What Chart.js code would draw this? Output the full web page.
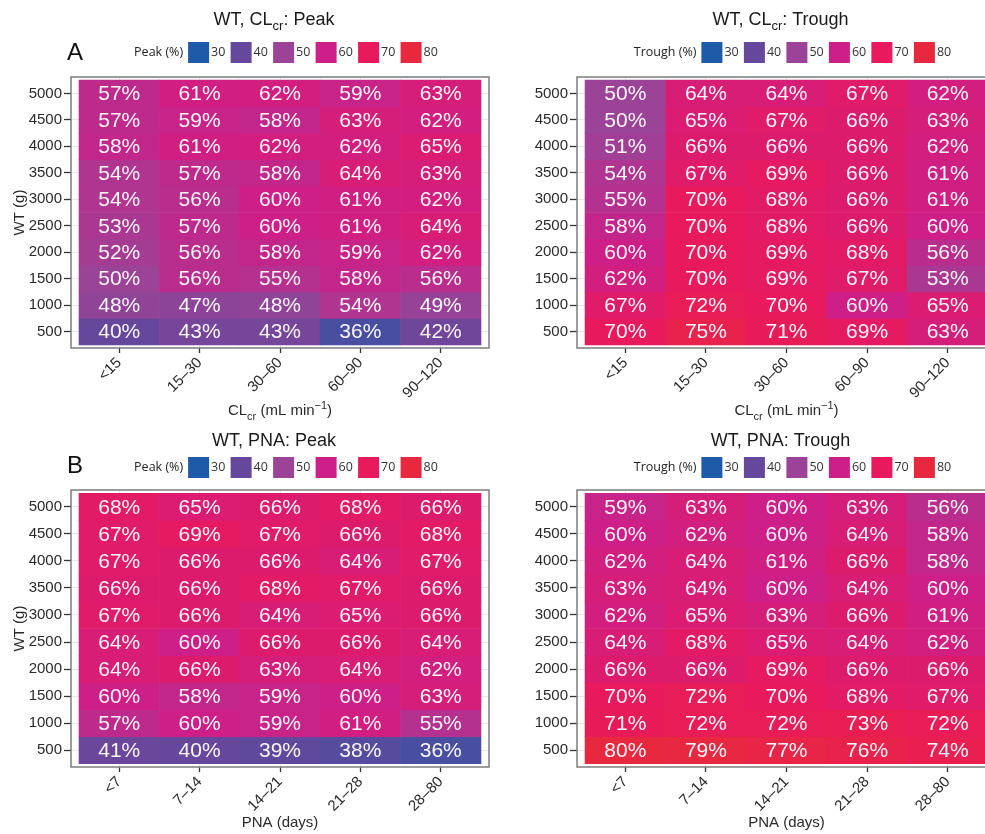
<!DOCTYPE html>
<html>
<head>
<meta charset="utf-8">
<script src="https://cdn.jsdelivr.net/npm/chart.js@4.4.1/dist/chart.umd.min.js"></script>
<style>
  html, body { margin: 0; padding: 0; background: #ffffff; overflow: hidden; width: 985px; height: 834px; }
  canvas { position: absolute; display: block; }
</style>
</head>
<body>
<canvas id="clcrPeak" width="490" height="420" style="left:0px;top:0px"></canvas>
<canvas id="clcrTrough" width="520" height="420" style="left:490px;top:0px"></canvas>
<canvas id="pnaPeak" width="490" height="414" style="left:0px;top:420px"></canvas>
<canvas id="pnaTrough" width="520" height="414" style="left:490px;top:420px"></canvas>
<script>
// Body weight rows, top to bottom
const wtLevels = [5000, 4500, 4000, 3500, 3000, 2500, 2000, 1500, 1000, 500];

// Column categories
const clcrBins = ['<15', '15–30', '30–60', '60–90', '90–120'];
const pnaBins = ['<7', '7–14', '14–21', '21–28', '28–80'];

// Target attainment (%) by WT row and CLcr column
const peakByClcr = [
  [57, 61, 62, 59, 63],
  [57, 59, 58, 63, 62],
  [58, 61, 62, 62, 65],
  [54, 57, 58, 64, 63],
  [54, 56, 60, 61, 62],
  [53, 57, 60, 61, 64],
  [52, 56, 58, 59, 62],
  [50, 56, 55, 58, 56],
  [48, 47, 48, 54, 49],
  [40, 43, 43, 36, 42]
];
const troughByClcr = [
  [50, 64, 64, 67, 62],
  [50, 65, 67, 66, 63],
  [51, 66, 66, 66, 62],
  [54, 67, 69, 66, 61],
  [55, 70, 68, 66, 61],
  [58, 70, 68, 66, 60],
  [60, 70, 69, 68, 56],
  [62, 70, 69, 67, 53],
  [67, 72, 70, 60, 65],
  [70, 75, 71, 69, 63]
];

// Target attainment (%) by WT row and PNA column
const peakByPna = [
  [68, 65, 66, 68, 66],
  [67, 69, 67, 66, 68],
  [67, 66, 66, 64, 67],
  [66, 66, 68, 67, 66],
  [67, 66, 64, 65, 66],
  [64, 60, 66, 66, 64],
  [64, 66, 63, 64, 62],
  [60, 58, 59, 60, 63],
  [57, 60, 59, 61, 55],
  [41, 40, 39, 38, 36]
];
const troughByPna = [
  [59, 63, 60, 63, 56],
  [60, 62, 60, 64, 58],
  [62, 64, 61, 66, 58],
  [63, 64, 60, 64, 60],
  [62, 65, 63, 66, 61],
  [64, 68, 65, 64, 62],
  [66, 66, 69, 66, 66],
  [70, 72, 70, 68, 67],
  [71, 72, 72, 73, 72],
  [80, 79, 77, 76, 74]
];

// Colour scale breaks
const legendBreaks = [30, 40, 50, 60, 70, 80];
const legendColours = ['#1f5aa8', '#65479b', '#9b4396', '#cd1f87', '#e8195c', '#e8283e'];

const SANS = '"Liberation Sans", Arial, Helvetica, sans-serif';
const LEGEND_FONT = '"Open Sans", "Noto Sans", sans-serif';

function hexToRgb(h) {
  const n = parseInt(h.slice(1), 16);
  return [(n >> 16) & 255, (n >> 8) & 255, n & 255];
}
const rampRgb = legendColours.map(hexToRgb);

function fillFor(v) {
  const lo = legendBreaks[0], hi = legendBreaks[legendBreaks.length - 1];
  const t = Math.min(Math.max(v, lo), hi);
  let k = 0;
  while (k < legendBreaks.length - 2 && t > legendBreaks[k + 1]) k++;
  const f = (t - legendBreaks[k]) / (legendBreaks[k + 1] - legendBreaks[k]);
  const a = rampRgb[k], b = rampRgb[k + 1];
  const c = a.map((x, i) => Math.round(x + (b[i] - x) * f));
  return `rgb(${c[0]},${c[1]},${c[2]})`;
}

// Text with subscript / superscript runs, centred on cx
function drawRich(ctx, segs, cx, y, base) {
  const fontOf = s => (s.sub || s.sup) ? `${Math.round(base * 0.72)}px ${SANS}` : `${base}px ${SANS}`;
  let total = 0;
  segs.forEach(s => { ctx.font = fontOf(s); total += ctx.measureText(s.t).width; });
  let x = cx - total / 2;
  ctx.textAlign = 'left';
  ctx.textBaseline = 'alphabetic';
  segs.forEach(s => {
    ctx.font = fontOf(s);
    const dy = s.sub ? base * 0.3 : (s.sup ? -base * 0.38 : 0);
    ctx.fillText(s.t, x, y + dy);
    x += ctx.measureText(s.t).width;
  });
}

const cellLabels = {
  id: 'cellLabels',
  afterDatasetsDraw(chart) {
    const ctx = chart.ctx;
    ctx.save();
    ctx.fillStyle = '#fbf6fa';
    ctx.font = `21px ${SANS}`;
    ctx.textAlign = 'center';
    ctx.textBaseline = 'middle';
    chart.data.datasets.forEach((ds, i) => {
      chart.getDatasetMeta(i).data.forEach((bar, j) => {
        ctx.fillText(ds.data[j].v + '%', bar.x, (bar.y + bar.base) / 2 + 1);
      });
    });
    ctx.restore();
  }
};

const panelDecor = {
  id: 'panelDecor',
  afterDraw(chart, args, o) {
    const ctx = chart.ctx;
    const a = chart.chartArea;
    const mid = (a.left + a.right) / 2;
    ctx.save();
    // panel frame
    ctx.strokeStyle = '#7c7c7c';
    ctx.lineWidth = 1.5;
    ctx.strokeRect(a.left, a.top, a.right - a.left, a.bottom - a.top);

    // heading
    ctx.fillStyle = '#1a1a1a';
    drawRich(ctx, o.title, mid - 6, o.titleY, 18);

    // x axis title
    ctx.fillStyle = '#2a2a2a';
    drawRich(ctx, o.xTitle, mid, o.xTitleY, 15);

    // panel tag
    if (o.tag) {
      ctx.fillStyle = '#111';
      ctx.font = `24px ${SANS}`;
      ctx.textAlign = 'left';
      ctx.textBaseline = 'alphabetic';
      ctx.fillText(o.tag, 67, o.tagY);
    }

    // colour legend
    const sw = 21, step = 42.5;
    ctx.font = `12.5px ${LEGEND_FONT}`;
    const titleW = ctx.measureText(o.legendTitle).width;
    ctx.font = `12.5px ${LEGEND_FONT}`;
    const lastW = ctx.measureText(String(legendBreaks[legendBreaks.length - 1])).width;
    const groupW = titleW + 5 + step * (legendBreaks.length - 1) + sw + 2 + lastW;
    let x0 = mid + 6 - groupW / 2;
    ctx.textBaseline = 'middle';
    ctx.textAlign = 'left';
    ctx.fillStyle = '#222';
    ctx.fillText(o.legendTitle, x0, o.legendY);
    const sx0 = x0 + titleW + 5;
    legendBreaks.forEach((b, k) => {
      const sx = sx0 + k * step;
      ctx.fillStyle = legendColours[k];
      ctx.fillRect(sx, o.legendY - sw / 2, sw, sw);
      ctx.fillStyle = '#333';
      ctx.fillText(String(b), sx + sw + 2, o.legendY);
    });
    ctx.restore();
  }
};

const clcrTitle = [{t: 'CL'}, {t: 'cr', sub: true}, {t: ' (mL min'}, {t: '−1', sup: true}, {t: ')'}];
const pnaTitle = [{t: 'PNA (days)'}];

function makePanel(id, p) {
  const datasets = wtLevels.map((wt, r) => ({
    label: String(wt),
    data: p.bins.map((b, c) => ({x: c, y: [wt - 250, wt + 250], v: p.values[r][c]})),
    backgroundColor: ctx => fillFor(ctx.raw.v),
    borderWidth: 0,
    grouped: false,
    barPercentage: 1,
    categoryPercentage: 1
  }));
  const tickFont = {family: SANS, size: 15};
  new Chart(document.getElementById(id), {
    type: 'bar',
    data: {datasets},
    plugins: [cellLabels, panelDecor],
    options: {
      responsive: false,
      animation: false,
      devicePixelRatio: 1,
      events: [],
      layout: {padding: {top: p.top, left: 0, right: p.rightPad, bottom: 0}},
      plugins: {
        legend: {display: false},
        tooltip: {enabled: false},
        panelDecor: {
          title: p.title, titleY: p.titleY, xTitle: p.xTitle, xTitleY: p.xTitleY,
          tag: p.tag, tagY: p.tagY, legendTitle: p.legendTitle, legendY: p.legendY
        }
      },
      scales: {
        x: {
          type: 'linear', min: -0.6, max: 4.6, offset: false,
          afterBuildTicks: s => { s.ticks = p.bins.map((b, i) => ({value: i})); },
          afterFit: s => { s.height = p.xHeight; },
          ticks: {
            autoSkip: false, minRotation: 45, maxRotation: 45, padding: 1,
            color: '#2a2a2a', font: tickFont,
            callback: v => p.bins[v]
          },
          grid: {offset: false, color: '#e6e6e6', lineWidth: 1, tickLength: 5, tickColor: '#333', tickWidth: 1.3},
          border: {display: false}
        },
        y: {
          type: 'linear', min: 190, max: 5310,
          afterBuildTicks: s => { s.ticks = wtLevels.map(v => ({value: v})); },
          afterFit: s => { s.width = p.yWidth; },
          ticks: {padding: 2, color: '#2a2a2a', font: tickFont, callback: v => String(v)},
          grid: {color: '#e6e6e6', lineWidth: 1, tickLength: 7, tickColor: '#333', tickWidth: 1.3},
          border: {display: false},
          title: {display: p.yTitle, text: 'WT (g)', color: '#2a2a2a', font: {family: SANS, size: 15}, padding: {top: 11, bottom: 0}}
        }
      }
    }
  });
}

makePanel('clcrPeak', {
  values: peakByClcr, bins: clcrBins,
  title: [{t: 'WT, CL'}, {t: 'cr', sub: true}, {t: ': Peak'}], titleY: 25,
  xTitle: clcrTitle, xTitleY: 415, tag: 'A', tagY: 60,
  legendTitle: 'Peak (%)', legendY: 52.5,
  top: 77, xHeight: 72, yWidth: 71, rightPad: 1, yTitle: true
});
makePanel('clcrTrough', {
  values: troughByClcr, bins: clcrBins,
  title: [{t: 'WT, CL'}, {t: 'cr', sub: true}, {t: ': Trough'}], titleY: 25,
  xTitle: clcrTitle, xTitleY: 415, tag: null, tagY: 0,
  legendTitle: 'Trough (%)', legendY: 52.5,
  top: 77, xHeight: 72, yWidth: 87, rightPad: 14, yTitle: false
});
makePanel('pnaPeak', {
  values: peakByPna, bins: pnaBins,
  title: [{t: 'WT, PNA: Peak'}], titleY: 26,
  xTitle: pnaTitle, xTitleY: 407, tag: 'B', tagY: 53,
  legendTitle: 'Peak (%)', legendY: 47.5,
  top: 70, xHeight: 67, yWidth: 71, rightPad: 1, yTitle: true
});
makePanel('pnaTrough', {
  values: troughByPna, bins: pnaBins,
  title: [{t: 'WT, PNA: Trough'}], titleY: 26,
  xTitle: pnaTitle, xTitleY: 407, tag: null, tagY: 0,
  legendTitle: 'Trough (%)', legendY: 47.5,
  top: 70, xHeight: 67, yWidth: 87, rightPad: 14, yTitle: false
});
</script>
</body>
</html>
